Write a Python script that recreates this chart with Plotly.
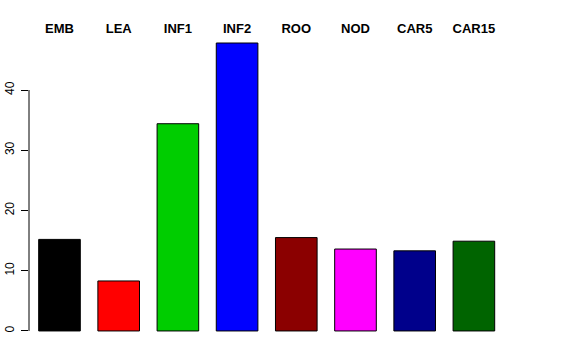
import plotly.graph_objects as go

categories = ["EMB", "LEA", "INF1", "INF2", "ROO", "NOD", "CAR5", "CAR15"]
values = [15.2, 8.3, 34.4, 47.8, 15.5, 13.6, 13.3, 14.9]
colors = ["#000000", "#FF0000", "#00CD00", "#0000FF", "#8B0000", "#FF00FF", "#00008B", "#006400"]
ytick_vals = [0, 10, 20, 30, 40]
positions = list(range(len(categories)))

fig = go.Figure()
fig.add_trace(go.Bar(
    x=positions, y=values, width=0.703,
    marker=dict(color=colors, line=dict(color="#000000", width=1)),
    showlegend=False, hoverinfo="skip",
))

fig.update_layout(
    width=576, height=360,
    margin=dict(l=29, r=66, t=40, b=20),
    paper_bgcolor="white", plot_bgcolor="white",
    font=dict(family="Liberation Sans, Arial, sans-serif", color="black"),
    xaxis=dict(
        range=[-0.515, 7.61], side="top", automargin=False,
        tickvals=positions, ticktext=categories,
        tickfont=dict(size=13, family="Liberation Sans, Arial, sans-serif", weight="bold"),
        ticks="", ticklabelstandoff=3,
        showgrid=False, zeroline=False, showline=False,
    ),
    yaxis=dict(
        range=[-1.5, 48.3], automargin=False,
        tickvals=ytick_vals, ticks="outside", ticklen=7, tickcolor="black", tickwidth=1,
        tickangle=-90, tickfont=dict(size=12), ticklabelstandoff=2,
        showgrid=False, zeroline=False, showline=False,
    ),
    shapes=[dict(type="line", xref="paper", yref="y", x0=0, x1=0, y0=0, y1=40,
                 line=dict(color="black", width=1))],
)

fig.write_html("out.html", config={"displayModeBar": False},
               post_script="document.body.style.margin='0px';")
